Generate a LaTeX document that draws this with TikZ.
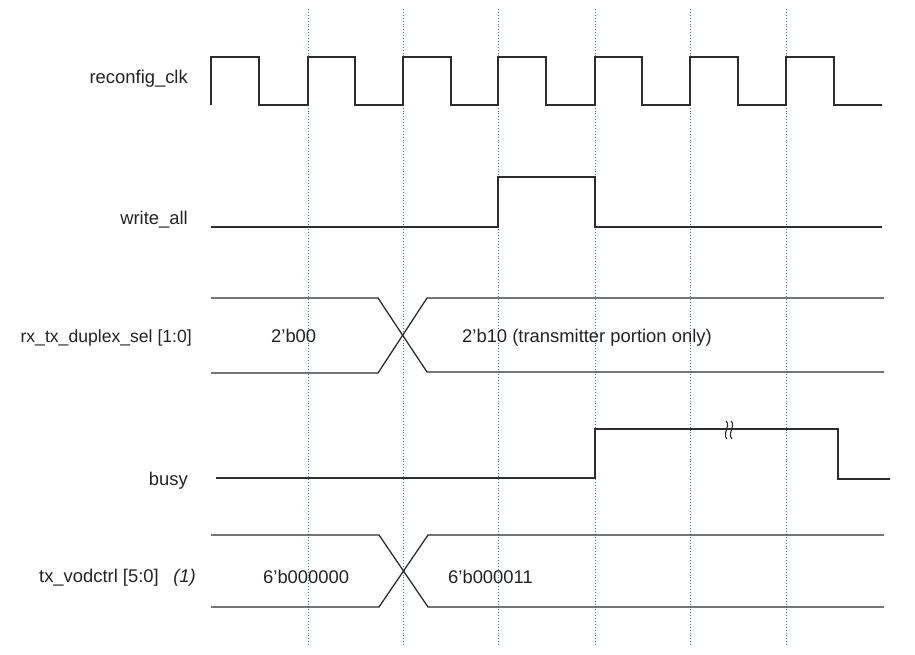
\documentclass[tikz,border=0pt]{standalone}
\usepackage{fontspec}
\setmainfont{Liberation Sans}
\definecolor{sigc}{RGB}{45,45,45}
\definecolor{gridc}{RGB}{40,130,200}
\definecolor{txtc}{RGB}{35,35,35}
\begin{document}
\begin{tikzpicture}[x=1pt,y=-1pt,
  sig/.style={draw=sigc, line width=1.3pt, line join=miter},
  gridline/.style={draw=gridc, dotted, line width=0.9pt},
  lbl/.style={font=\fontsize{18.4}{21}\selectfont, text=txtc, inner sep=0pt},
  brk/.style={draw=sigc, line width=1.1pt}]
\useasboundingbox (0,0) rectangle (915,654);
% vertical guides
\foreach \gx/\nm in {308/g1,403/g2,498/g3,595/g4,690/g5,786/g6}{
  \coordinate (\nm t) at (\gx,9);
  \coordinate (\nm b) at (\gx,646);
  \draw[gridline] (\nm t) -- (\nm b);
}
% labels
\node[lbl, anchor=base east] (lclk) at (188,83) {reconfig\_clk};
\node[lbl, anchor=base east] (lwr) at (188,224) {write\_all};
\node[lbl, anchor=base east, font=\fontsize{17.6}{21}\selectfont] (lrx) at (192,342) {rx\_tx\_duplex\_sel [1:0]};
\node[lbl, anchor=base east] (lbusy) at (188,485) {busy};
\node[lbl, anchor=base east] (ltx) at (159,582) {tx\_vodctrl [5:0]};
\node[lbl, anchor=base east, font=\fontsize{18.4}{21}\selectfont\itshape] (lnote) at (196,582) {(1)};
% clock
\draw[sig] (211,105) -- (211,57) -- (259,57) -- (259,105) -- (308,105) -- (308,57) -- (355,57) -- (355,105)
  -- (403,105) -- (403,57) -- (451,57) -- (451,105) -- (498,105) -- (498,57) -- (546,57) -- (546,105)
  -- (595,105) -- (595,57) -- (642,57) -- (642,105) -- (690,105) -- (690,57) -- (738,57) -- (738,105)
  -- (786,105) -- (786,57) -- (834,57) -- (834,105) -- (882,105);
% write_all
\draw[sig] (211,227) -- (498,227) -- (498,177) -- (595,177) -- (595,227) -- (882,227);
% rx_tx_duplex_sel
\draw[sig] (211,298) -- (378,298) -- (427,372) -- (884,372);
\draw[sig] (211,373) -- (378,373) -- (427,298) -- (884,298);
\node[lbl, anchor=base west] (v1) at (271,342) {2’b00};
\node[lbl, anchor=base west] (v2) at (462,342) {2’b10 (transmitter portion only)};
% busy
\draw[sig] (216,478) -- (595,478) -- (595,429) -- (838,429) -- (838,479) -- (890,479);
\draw[brk] (726,421) .. controls (731,425) and (722,434) .. (727,439);
\draw[brk] (731,421) .. controls (736,425) and (727,434) .. (732,439);
% tx_vodctrl
\draw[sig] (211,535) -- (379,535) -- (428,607) -- (884,607);
\draw[sig] (211,607) -- (379,607) -- (428,535) -- (884,535);
\node[lbl, anchor=base west] (v3) at (263,583) {6’b000000};
\node[lbl, anchor=base west] (v4) at (448,583) {6’b000011};
\end{tikzpicture}
\end{document}
